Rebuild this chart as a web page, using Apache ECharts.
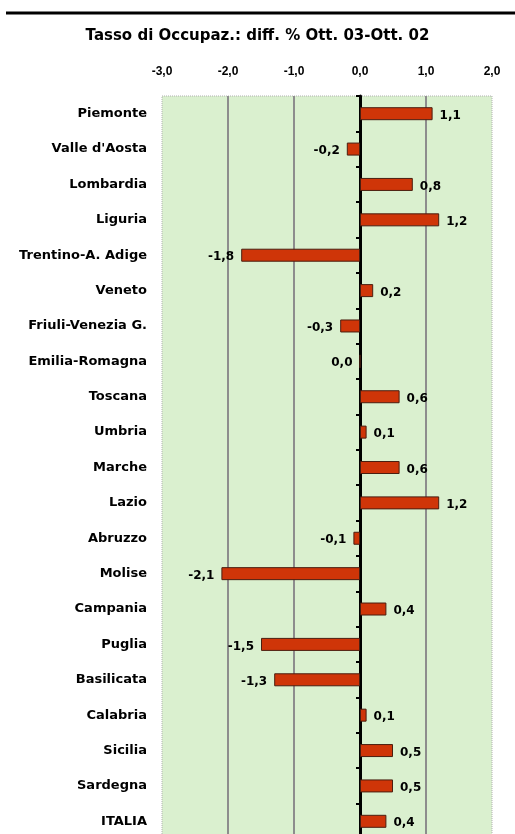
<!DOCTYPE html>
<html>
<head>
<meta charset="utf-8">
<script src="https://cdn.jsdelivr.net/npm/echarts@6/dist/echarts.min.js"></script>
<style>
html,body{margin:0;padding:0;background:#fff;}
#chart{width:515px;height:834px;}
</style>
</head>
<body>
<div id="chart"></div>
<script>
var titleText = 'Tasso di Occupaz.: diff. % Ott. 03-Ott. 02';
var regions = ['Piemonte','Valle d\'Aosta','Lombardia','Liguria','Trentino-A. Adige','Veneto','Friuli-Venezia G.','Emilia-Romagna','Toscana','Umbria','Marche','Lazio','Abruzzo','Molise','Campania','Puglia','Basilicata','Calabria','Sicilia','Sardegna','ITALIA'];
var diffValues = [1.1,-0.2,0.8,1.2,-1.8,0.2,-0.3,0.0,0.6,0.1,0.6,1.2,-0.1,-2.1,0.4,-1.5,-1.3,0.1,0.5,0.5,0.4];
var axisMin = -3, axisMax = 2, axisStep = 1;

function fmt(v){ return v.toFixed(1).replace('.', ','); }

var fontD = '"DejaVu Sans", sans-serif';
var fontL = '"Liberation Sans", Arial, sans-serif';
var chart = echarts.init(document.getElementById('chart'), null, {renderer:'canvas'});

var barData = diffValues.map(function(v){
  return {
    value: v,
    label: { position: v > 0 ? 'right' : 'left' }
  };
});

chart.setOption({
  animation: false,
  backgroundColor: '#ffffff',
  title: {
    text: titleText,
    left: 'center',
    top: 24,
    textStyle: { fontFamily: fontD, fontSize: 15, fontWeight: 'bold', color: '#000' }
  },
  graphic: [{
    type: 'line',
    shape: { x1: 6, y1: 13, x2: 515, y2: 13 },
    style: { stroke: '#000', lineWidth: 3 }
  }],
  grid: {
    left: 162, right: 23, top: 96, bottom: -5,
    show: true,
    backgroundColor: '#daf0cf',
    borderColor: '#b0b0b0',
    borderWidth: 1,
    borderType: 'dotted',
    containLabel: false,
    outerBoundsMode: 'none'
  },
  xAxis: {
    type: 'value',
    position: 'top',
    min: axisMin, max: axisMax, interval: axisStep,
    axisLine: { show: false },
    axisTick: { show: false },
    axisLabel: {
      margin: 18,
      formatter: function(v){ return fmt(v); },
      fontFamily: fontL, fontSize: 12, fontWeight: 'bold', color: '#000'
    },
    splitLine: {
      show: true,
      showMinLine: false,
      showMaxLine: false,
      lineStyle: { color: '#8d8d8d', width: 2 }
    }
  },
  yAxis: {
    type: 'category',
    inverse: true,
    data: regions,
    axisLine: { show: true, onZero: true, lineStyle: { color: '#000', width: 3 } },
    axisTick: { show: true, length: 4, lineStyle: { color: '#000', width: 2 } },
    axisLabel: {
      margin: 15,
      fontFamily: fontD, fontSize: 13, fontWeight: 'bold', color: '#000'
    },
    splitLine: { show: false }
  },
  series: [{
    type: 'bar',
    data: barData,
    barWidth: 13,
    itemStyle: { color: '#cf3508', borderColor: '#4a1e10', borderWidth: 1 },
    label: {
      show: true,
      distance: 7,
      offset: [0, 2],
      formatter: function(p){ return fmt(p.value); },
      fontFamily: fontD, fontSize: 12, fontWeight: 'bold', color: '#000'
    },
    z: 3
  }]
});
</script>
</body>
</html>
